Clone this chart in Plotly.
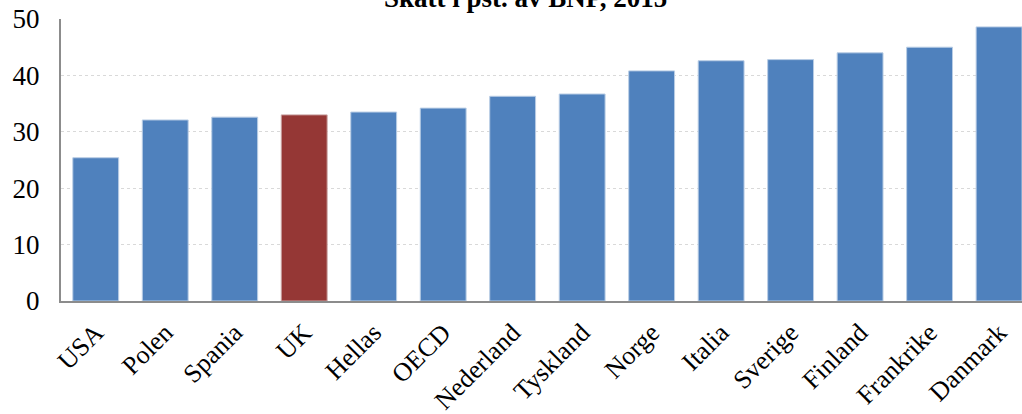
import plotly.graph_objects as go

countries = ["USA", "Polen", "Spania", "UK", "Hellas", "OECD", "Nederland",
             "Tyskland", "Norge", "Italia", "Sverige", "Finland", "Frankrike", "Danmark"]
tax_share = [25.4, 32.1, 32.6, 33.0, 33.5, 34.2, 36.3,
             36.7, 40.8, 42.6, 42.8, 44.0, 45.0, 48.6]
highlight = "UK"

bar_colors = ["#953735" if c == highlight else "#4F81BD" for c in countries]
line_colors = ["#C9A3A2" if c == highlight else "#B9CDE5" for c in countries]

serif = "Liberation Serif, Times New Roman, serif"

fig = go.Figure(go.Bar(
    x=countries,
    y=tax_share,
    marker=dict(color=bar_colors, line=dict(color=line_colors, width=1)),
    width=0.66,
))

fig.add_annotation(
    text="<b>Skatt i pst. av BNP, 2015</b>",
    xref="paper", yref="paper", x=0.483, y=1.015,
    xanchor="center", yanchor="bottom",
    showarrow=False, font=dict(family=serif, size=27, color="black"),
)

fig.update_layout(
    width=1022, height=414,
    margin=dict(l=61, r=0, t=19, b=113),
    paper_bgcolor="white", plot_bgcolor="white",
    showlegend=False,
    font=dict(family=serif, color="black"),
)

fig.update_xaxes(
    range=[-0.5, 13.33],
    tickangle=-45,
    tickfont=dict(family=serif, size=26),
    showline=True, linecolor="#8C8C8C", linewidth=2,
    showgrid=False, ticks="", automargin=False, ticklabelstandoff=4,
)

fig.update_yaxes(
    range=[0, 50], dtick=10,
    tickfont=dict(family=serif, size=27),
    showline=True, linecolor="#8C8C8C", linewidth=2,
    showgrid=True, gridcolor="#D9D9D9", griddash="dot", gridwidth=1,
    ticks="", ticklabelstandoff=14, zeroline=False, automargin=False,
)

fig.write_html("out.html", config={"displayModeBar": False},
               post_script="document.body.style.margin='0';")
